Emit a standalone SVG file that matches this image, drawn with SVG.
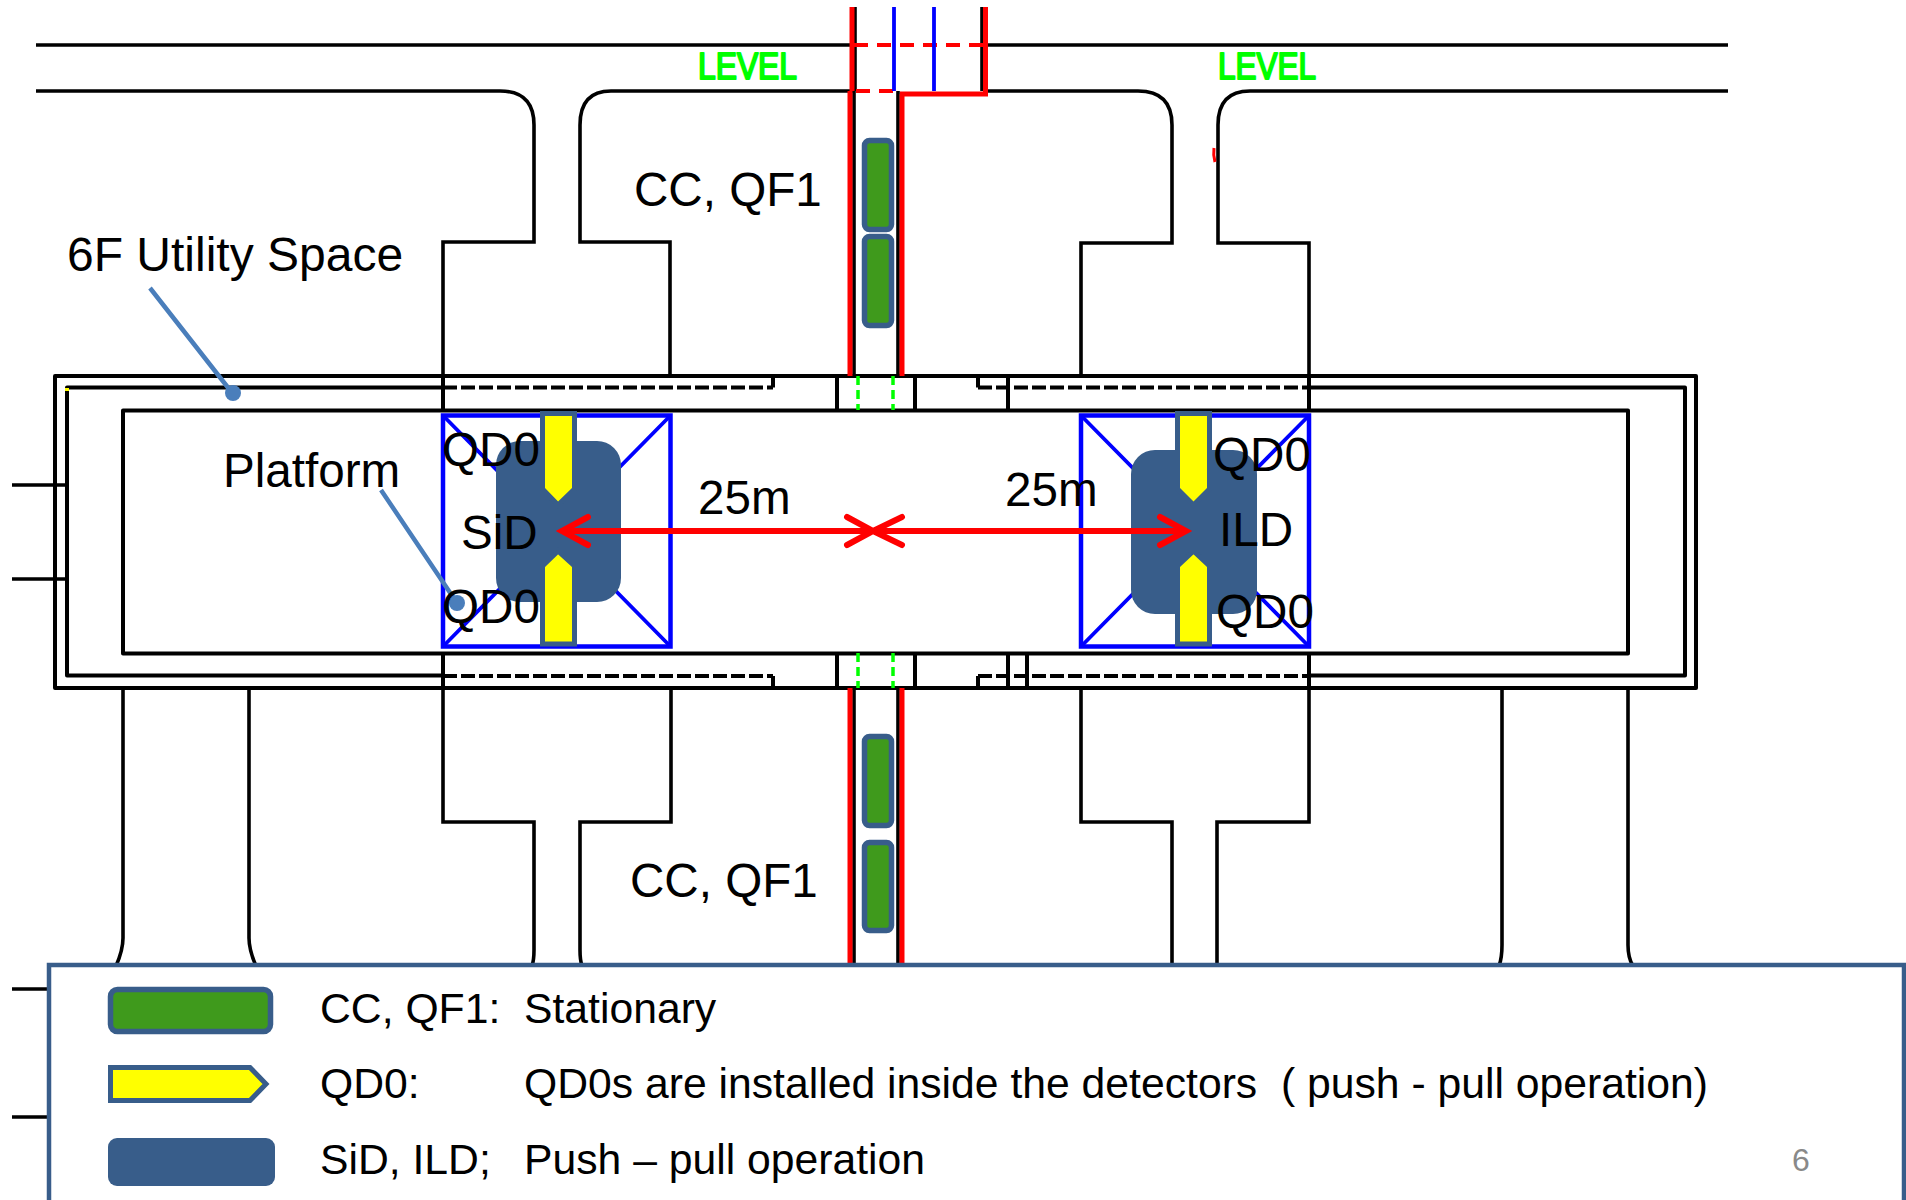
<svg xmlns="http://www.w3.org/2000/svg" width="1906" height="1200" viewBox="0 0 1906 1200">
<style>
text{font-family:"Liberation Sans",Arial,sans-serif;fill:#000}
.k{fill:none;stroke:#000;stroke-width:4;stroke-linejoin:round}
.kt{fill:none;stroke:#000;stroke-width:3.600}
.d{fill:none;stroke:#000;stroke-width:4;stroke-dasharray:14 4}
.r{fill:none;stroke:#f00;stroke-width:5}
.rd{fill:none;stroke:#f00;stroke-width:4;stroke-dasharray:14 9}
.b{fill:none;stroke:#00f;stroke-width:3.800}
.bx{fill:none;stroke:#00f;stroke-width:4.500}
.gd{fill:none;stroke:#0f0;stroke-width:3.500;stroke-dasharray:9 5}
.a{fill:none;stroke:#f00;stroke-width:6;stroke-linecap:round;stroke-linejoin:miter}
.l{fill:none;stroke:#4a7ebb;stroke-width:4.500}
.dot{fill:#4a7ebb}
.big{font-size:47.600px}
.big2{font-size:48px}
.lg{font-size:42.700px}
.lv{font-size:36px;fill:#0f0;stroke:#0f0;stroke-width:2;stroke-linejoin:round}
.grn{fill:#3f9a1c;stroke:#385d8a;stroke-width:5.500}
.yel{fill:#ff0;stroke:#385d8a;stroke-width:5}
.det{fill:#385d8a}
</style>

<g id="building">
  <path class="kt" d="M36 45H852M985 45H1728"/>
  <path class="kt" d="M36 91H500Q534 91 534 125V242H443V375"/>
  <path class="kt" d="M855 91H611Q580 91 580 125V242H670V375"/>
  <path class="kt" d="M986 91H1138Q1172 91 1172 125V243H1081V375"/>
  <path class="kt" d="M1728 91H1250Q1218 91 1218 125V243H1309V375"/>
  <rect class="k" x="55" y="376" width="1641" height="312"/>
  <path class="k" d="M443 387.500H67V675.500H443M1308 387.500H1685V675.500H1308"/>
  <rect class="k" x="123" y="410.500" width="1505" height="243"/>
  <path class="d" d="M443 387.500H773M978 387.500H1308M443 676H773M978 676H1308"/>
  <path class="k" d="M773 387.500V376M978 387.500V376M978 676V688M773 676V688"/>
  <path class="k" d="M443 375V410M1008 376V410M1309 375V410M443 653V688M1008 653V688M1027 653V688M1309 653V688M837 376V410M915 376V410M837 653V688M915 653V688"/>
  <path class="kt" d="M12 485H66M12 579H66"/>
  <path class="kt" d="M123 688V938Q123 950 116 966M249 688V938Q249 950 256 966M1502 688V945Q1502 958 1499 966M1628 688V945Q1628 958 1633 966"/>
  <path class="kt" d="M443 688V822H534V950Q534 960 532 966M671 688V822H580V950Q580 960 582 966M1081 688V822H1172V966M1309 688V822H1217V966"/>
  <path class="kt" d="M12 989H48M12 1117H48"/>
  <rect x="65" y="388" width="4" height="3" fill="#ff0"/>
</g>

<g id="shaft">
  <path class="kt" d="M855 7V91M982 7V91M854 91V375M898 91V375M854 688V966M898 688V966"/>
  <path class="r" d="M852 7V91M985.500 7V94H900M850 91V376M902 94V376M850 688V966M902 688V966"/>
  <path class="rd" d="M854 45H985M856 91H894"/>
  <path class="b" d="M894 7V91M934 7V91"/>
  <path class="gd" d="M858 376V410M893 376V410M858 653V688M893 653V688"/>
  <path fill="none" stroke="#f00" stroke-width="3" d="M1214 148Q1213 155 1215 162"/>
</g>

<g id="blue-boxes">
  <rect class="bx" x="443" y="415.500" width="227.500" height="231"/>
  <path class="b" d="M443 415.500L670.500 646.500M670.500 415.500L443 646.500"/>
  <rect class="bx" x="1081" y="415.500" width="228" height="231"/>
  <path class="b" d="M1081 415.500L1309 646.500M1309 415.500L1081 646.500"/>
</g>

<g id="SiD">
  <rect class="det" x="496" y="441" width="125" height="161" rx="24"/>
  <path class="yel" d="M542.500 413.500H574.500V489L558 505L542.500 489Z"/>
  <path class="yel" d="M542.500 644H574.500V566L558 551L542.500 566Z"/>
</g>
<g id="ILD">
  <rect class="det" x="1131" y="450" width="126" height="164" rx="24"/>
  <path class="yel" d="M1177.500 413.500H1209.500V489L1193.500 505L1177.500 489Z"/>
  <path class="yel" d="M1177.500 644H1209.500V566L1193.500 551L1177.500 566Z"/>
</g>

<g id="stationary-magnets">
  <rect class="grn" x="864.500" y="140.500" width="27" height="89" rx="5"/>
  <rect class="grn" x="864.500" y="236.500" width="27" height="89" rx="5"/>
  <rect class="grn" x="864.500" y="736.500" width="27" height="89" rx="5"/>
  <rect class="grn" x="864.500" y="842.500" width="27" height="88" rx="5"/>
</g>

<g id="connectors">
  <path class="a" d="M562 531H1184M588 517L562 531L588 545M847 517L873 531L847 545M902 517L873 531L902 545M1160 517L1186 531L1160 545"/>
  <path class="l" d="M150 288L233 394M381 490L457 603"/>
  <circle class="dot" cx="233" cy="393" r="8"/>
  <circle class="dot" cx="457" cy="603" r="8"/>
</g>

<g id="labels">
  <text class="lv" x="698" y="79" textLength="99" lengthAdjust="spacingAndGlyphs">LEVEL</text>
  <text class="lv" x="1218" y="79" textLength="98" lengthAdjust="spacingAndGlyphs">LEVEL</text>
  <text class="big2" x="67" y="271">6F Utility Space</text>
  <text class="big" x="223" y="487">Platform</text>
  <text class="big" x="634" y="206">CC, QF1</text>
  <text class="big" x="630" y="897">CC, QF1</text>
  <text class="big" x="442" y="466">QD0</text>
  <text class="big" x="461" y="549">SiD</text>
  <text class="big" x="442" y="623">QD0</text>
  <text class="big" x="698" y="514">25m</text>
  <text class="big" x="1005" y="506">25m</text>
  <text class="big" x="1213" y="471">QD0</text>
  <text class="big" x="1219" y="546">ILD</text>
  <text class="big" x="1216" y="628">QD0</text>
</g>

<g id="legend">
  <rect x="49" y="965" width="1855" height="240" fill="#fff" stroke="#385d8a" stroke-width="4.500"/>
  <rect class="grn" x="110.500" y="989.500" width="160" height="42" rx="7"/>
  <path class="yel" d="M110.500 1067.500H250L266 1084L250 1100.500H110.500Z"/>
  <rect class="det" x="108" y="1138" width="167" height="48" rx="9"/>
  <text class="lg" x="320" y="1023">CC, QF1:</text>
  <text class="lg" x="524" y="1023">Stationary</text>
  <text class="lg" x="320" y="1098">QD0:</text>
  <text class="lg" x="524" y="1098" xml:space="preserve">QD0s are installed inside the detectors  ( push - pull operation)</text>
  <text class="lg" x="320" y="1174">SiD, ILD;</text>
  <text class="lg" x="524" y="1174">Push – pull operation</text>
  <text x="1792" y="1171" font-size="32" style="fill:#898989">6</text>
</g>
</svg>
